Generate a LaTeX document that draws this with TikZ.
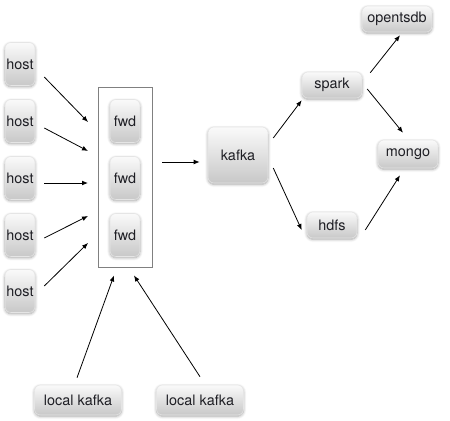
\documentclass[tikz,border=0pt]{standalone}
\usepackage{fontspec}
\setmainfont{TeX Gyre Heros}
\definecolor{boxtop}{RGB}{250,250,250}
\definecolor{boxbot}{RGB}{200,200,200}
\definecolor{frame}{RGB}{128,128,128}
\definecolor{ink}{RGB}{30,30,36}
\usetikzlibrary{calc,shadows.blur,arrows.meta}

\begin{document}
\begin{tikzpicture}[x=0.75pt,y=-0.75pt,
        every node/.style={font=\fontsize{10.8}{12}\selectfont,text=ink,inner sep=0pt},
        unit/.style={rounded corners=4.5pt,draw=black!10,top color=boxtop,bottom color=boxbot,
            blur shadow={shadow xshift=0pt,shadow yshift=-1pt,shadow blur steps=6,shadow opacity=35}},
        tall/.style={unit,minimum width=22.5pt,minimum height=32.25pt},
        flat/.style={unit,minimum height=19.5pt},
        link/.style={-{Latex[length=4.5pt,width=3.6pt]},line width=0.6pt}]
        \useasboundingbox (0,0) rectangle (450,421);
        % hosts and forwarders
        \foreach \i/\y in {1/64,2/121,3/178,4/235,5/291}
            \node[tall] (h\i) at (20,\y) {host};
        \node[draw=frame,line width=0.7pt,minimum width=40.5pt,minimum height=135pt] (box) at (125,177) {};
        \foreach \i/\y in {1/121,2/178,3/235}
            \node[tall] (f\i) at (125,\y) {fwd};
        \foreach \i/\y in {1/122,2/151,3/183,4/216,5/243}
            \coordinate (in\i) at (88,\y);
        % pipeline
        \node[unit,minimum width=45pt,minimum height=42pt] (kafka) at (238,155) {kafka};
        \node[flat,minimum width=45pt] (spark) at (332,85) {spark};
        \node[flat,minimum width=37.5pt] (hdfs) at (332,225) {hdfs};
        \node[flat,minimum width=52.5pt] (tsdb) at (397,19) {opentsdb};
        \node[flat,minimum width=45pt,minimum height=21pt] (mongo) at (408,154) {mongo};
        \node[flat,minimum width=65.25pt,minimum height=22.5pt] (lk1) at (78,400) {local kafka};
        \node[flat,minimum width=65.25pt,minimum height=22.5pt] (lk2) at (200,400) {local kafka};
        % arrows
        \draw[link] ($(h1.east)+(9,13)$) -- (in1);
        \draw[link] ($(h2.east)+(9,7)$) -- (in2);
        \draw[link] ($(h3.east)+(9,5)$) -- (in3);
        \draw[link] ($(h4.east)+(9,3)$) -- (in4);
        \draw[link] ($(h5.east)+(9,-5)$) -- (in5);
        \draw[link] ($(box.east)+(10,-15)$) -- ($(kafka.west)+(-8,7)$);
        \draw[link] ($(kafka.east)+(5,-17)$) -- ($(spark.south west)+(0,2)$);
        \draw[link] ($(kafka.east)+(5,13)$) -- ($(hdfs.west)+(-5,5)$);
        \draw[link] ($(spark.north east)+(8,1)$) -- ($(tsdb.south)+(3,3)$);
        \draw[link] ($(spark.east)+(5,4)$) -- ($(mongo.north)+(-5,-7)$);
        \draw[link] ($(hdfs.east)+(8,5)$) -- ($(mongo.south)+(-8,7)$);
        \draw[link] ($(lk1.north)+(-1,-7)$) -- ($(box.south)+(-11,8)$);
        \draw[link] ($(lk2.north)+(0,-8)$) -- ($(box.south)+(9,8)$);
\end{tikzpicture}
\end{document}
